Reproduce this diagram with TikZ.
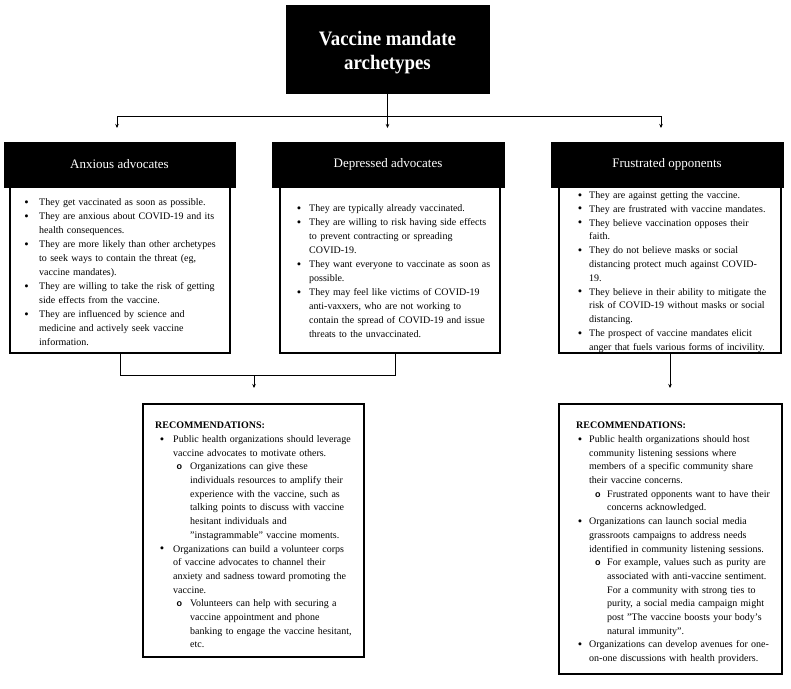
\documentclass[tikz,border=0pt]{standalone}
\usepackage{fontspec}
\setmainfont{Liberation Serif}
\newfontfamily\titlefont[FakeStretch=0.92]{Liberation Serif}
\newfontfamily\subbulfont{Liberation Sans}
\usetikzlibrary{arrows.meta}
\newcommand{\subbul}{{\subbulfont\bfseries\fontsize{9}{9}\selectfont o}}
\newcommand{\mybul}{\raisebox{-0.6pt}{\fontsize{12.5}{12.5}\selectfont\textbullet}}
\newenvironment{blist}[2]{\begin{list}{\mybul}{\setlength{\leftmargin}{#1}\setlength{\labelsep}{#2}\setlength{\labelwidth}{7pt}\setlength{\itemsep}{0pt}\setlength{\parsep}{0pt}\setlength{\topsep}{0pt}\setlength{\partopsep}{0pt}\setlength{\itemindent}{0pt}\setlength{\listparindent}{0pt}\setlength{\rightmargin}{0pt}}\raggedright}{\end{list}}
\newenvironment{olist}[2]{\begin{list}{\subbul}{\setlength{\leftmargin}{#1}\setlength{\labelsep}{#2}\setlength{\labelwidth}{7pt}\setlength{\itemsep}{0pt}\setlength{\parsep}{0pt}\setlength{\topsep}{0pt}\setlength{\partopsep}{0pt}\setlength{\itemindent}{0pt}\setlength{\listparindent}{0pt}\setlength{\rightmargin}{0pt}}\raggedright}{\end{list}}
\tikzset{
  titlebox/.style={fill=black, draw=black, inner sep=0pt, minimum width=203pt, minimum height=88pt, text=white, align=center, font=\titlefont\bfseries\fontsize{20.5}{24}\selectfont},
  hdr/.style={fill=black, draw=black, inner sep=0pt, minimum height=45pt, text=white, font=\fontsize{13}{15}\selectfont},
  cbox/.style={draw=black, line width=1.6pt, inner sep=0pt, fill=white},
  ctext/.style={anchor=north west, inner sep=0pt, text width=240pt, align=left, font=\fontsize{10}{14}\selectfont},
  rctext/.style={anchor=north west, inner sep=0pt, text width=240pt, align=left, font=\fontsize{10}{13.8}\selectfont},
  rtext/.style={anchor=north west, inner sep=0pt, text width=240pt, align=left, font=\fontsize{10}{13.7}\selectfont},
  conn/.style={draw=black, line width=0.9pt},
  arr/.style={conn, -{Stealth[length=4pt,width=3.5pt]}}
}
\begin{document}
\begin{tikzpicture}[x=1pt,y=-1pt]
\useasboundingbox[fill=white] (0,0) rectangle (791,688);
% title
\node[titlebox] (title) at (387.5,49) {\rule{0pt}{22pt}Vaccine mandate\\archetypes};
% content boxes
\node[cbox, minimum width=220pt, minimum height=166pt] (lc) at (120,270) {};
\node[cbox, minimum width=220pt, minimum height=166pt] (mc) at (390,270) {};
\node[cbox, minimum width=222pt, minimum height=166pt] (rc) at (670,270) {};
% headers
\node[hdr, minimum width=231pt] (lh) at (119.5,164.5) {\raisebox{-2pt}{Anxious advocates}};
\node[hdr, minimum width=232pt] (mh) at (388,164.5) {\raisebox{-2pt}{Depressed advocates}};
\node[hdr, minimum width=232pt] (rh) at (667,164.5) {\raisebox{-2pt}{Frustrated opponents}};
% recommendation boxes
\node[cbox, minimum width=221pt, minimum height=253pt] (lr) at (253.5,530.5) {};
\node[cbox, minimum width=223pt, minimum height=270pt] (rr) at (670.5,539) {};
% texts
\node[ctext] (lct) at (10,191.5) {%
\begin{blist}{29pt}{10.5pt}
\item \rule{0pt}{8pt}They get vaccinated as soon as possible.
\item They are anxious about COVID-19 and its\newline health consequences.
\item They are more likely than other archetypes\newline to seek ways to contain the threat (eg,\newline vaccine mandates).
\item They are willing to take the risk of getting\newline side effects from the vaccine.
\item They are influenced by science and\newline medicine and actively seek vaccine\newline information.
\end{blist}};
\node[ctext] (mct) at (280,197.5) {%
\begin{blist}{29pt}{8pt}
\item \rule{0pt}{8pt}They are typically already vaccinated.
\item They are willing to risk having side effects\newline to prevent contracting or spreading\newline COVID-19.
\item They want everyone to vaccinate as soon as\newline possible.
\item They may feel like victims of COVID-19\newline anti-vaxxers, who are not working to\newline contain the spread of COVID-19 and issue\newline threats to the unvaccinated.
\end{blist}};
\node[rctext] (rct) at (559,184.5) {%
\begin{blist}{30pt}{7pt}
\item \rule{0pt}{8pt}They are against getting the vaccine.
\item They are frustrated with vaccine mandates.
\item They believe vaccination opposes their\newline faith.
\item They do not believe masks or social\newline distancing protect much against COVID-\newline 19.
\item They believe in their ability to mitigate the\newline risk of COVID-19 without masks or social\newline distancing.
\item The prospect of vaccine mandates elicit\newline anger that fuels various forms of incivility.
\end{blist}};
\node[rtext] (lrt) at (155,420.5) {%
\rule{0pt}{8pt}\textbf{RECOMMENDATIONS:}
\begin{blist}{18pt}{9pt}
\item Public health organizations should leverage\newline vaccine advocates to motivate others.
\begin{olist}{17pt}{8pt}
\item Organizations can give these\newline individuals resources to amplify their\newline experience with the vaccine, such as\newline talking points to discuss with vaccine\newline hesitant individuals and\newline "instagrammable" vaccine moments.
\end{olist}
\item Organizations can build a volunteer corps\newline of vaccine advocates to channel their\newline anxiety and sadness toward promoting the\newline vaccine.
\begin{olist}{17pt}{8pt}
\item Volunteers can help with securing a\newline vaccine appointment and phone\newline banking to engage the vaccine hesitant,\newline etc.
\end{olist}
\end{blist}};
\node[rtext] (rrt) at (576,420.5) {%
\rule{0pt}{8pt}\textbf{RECOMMENDATIONS:}
\begin{blist}{13pt}{7pt}
\item Public health organizations should host\newline community listening sessions where\newline members of a specific community share\newline their vaccine concerns.
\begin{olist}{18pt}{6.5pt}
\item Frustrated opponents want to have their\newline concerns acknowledged.
\end{olist}
\item Organizations can launch social media\newline grassroots campaigns to address needs\newline identified in community listening sessions.
\begin{olist}{18pt}{6.5pt}
\item For example, values such as purity are\newline associated with anti-vaccine sentiment.\newline For a community with strong ties to\newline purity, a social media campaign might\newline post "The vaccine boosts your body's\newline natural immunity".
\end{olist}
\item Organizations can develop avenues for one-\newline on-one discussions with health providers.
\end{blist}};
% connectors from title
\coordinate (tj) at (387.5,116);
\coordinate (jl) at (117,116);
\coordinate (jr) at (661,116);
\coordinate (al) at (117,128);
\coordinate (am) at (387.5,128);
\coordinate (ar) at (661,128);
\draw[conn] (title.south) -- (tj);
\draw[conn] (jl) -- (jr);
\draw[arr] (jl) -- (al);
\draw[arr] (tj) -- (am);
\draw[arr] (jr) -- (ar);
% connectors to recommendations
\coordinate (bl) at (120,375);
\coordinate (bm) at (395,375);
\coordinate (bj) at (254,375);
\coordinate (lra) at (254,388);
\coordinate (rra) at (670,388);
\draw[conn] (lc.south) -- (bl) -- (bm) -- ([xshift=5pt]mc.south);
\draw[arr] (bj) -- (lra);
\draw[arr] (rc.south) -- (rra);
\end{tikzpicture}
\end{document}
